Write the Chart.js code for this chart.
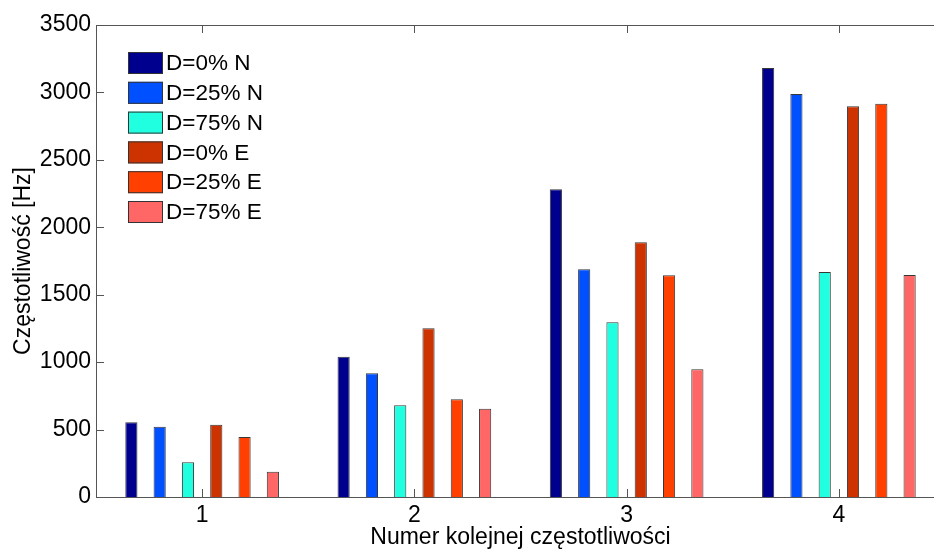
<!DOCTYPE html>
<html>
<head>
<meta charset="utf-8">
<script src="https://cdn.jsdelivr.net/npm/chart.js"></script>
<style>
  html, body { margin: 0; padding: 0; background: #fff; overflow: hidden; }
  #wrap { width: 950px; height: 549px; }
</style>
</head>
<body>
<div id="wrap"><canvas id="freqChart" width="950" height="549"></canvas></div>
<script>
    // data
    const categories = ['1', '2', '3', '4'];
    const seriesLabels = ['D=0% N', 'D=25% N', 'D=75% N', 'D=0% E', 'D=25% E', 'D=75% E'];
    const d0N  = [554, 1040, 2282, 3181];
    const d25N = [521, 917, 1688, 2988];
    const d75N = [257, 680, 1295, 1668];
    const d0E  = [536, 1251, 1889, 2898];
    const d25E = [445, 724, 1644, 2916];
    const d75E = [188, 655, 947, 1646];
    const yTicks = [0, 500, 1000, 1500, 2000, 2500, 3000, 3500];

    const colors = ['#00008f', '#0050ff', '#20ffdf', '#cc3300', '#ff4000', '#ff6666'];
    const values = [d0N, d25N, d75N, d0E, d25E, d75E];
    const font = "'Liberation Sans', Arial, sans-serif";

    // matlab-like box with inward ticks
    const boxPlugin = {
        id: 'box',
        afterDatasetsDraw(chart) {
            const {ctx, chartArea: a, scales} = chart;
            ctx.save();
            ctx.strokeStyle = '#555';
            ctx.lineWidth = 1;
            ctx.beginPath();
            ctx.rect(Math.round(a.left) + 0.5, Math.round(a.top) + 0.5,
                     Math.round(a.right - a.left), Math.round(a.bottom - a.top));
            yTicks.forEach(v => {
                const y = Math.round(scales.y.getPixelForValue(v)) + 0.5;
                ctx.moveTo(a.left, y); ctx.lineTo(a.left + 8, y);
                ctx.moveTo(a.right, y); ctx.lineTo(a.right - 8, y);
            });
            categories.forEach((c, i) => {
                const x = Math.round(scales.x.getPixelForValue(i)) + 0.5;
                ctx.moveTo(x, a.bottom); ctx.lineTo(x, a.bottom - 8);
                ctx.moveTo(x, a.top); ctx.lineTo(x, a.top + 8);
            });
            ctx.stroke();
            ctx.restore();
        },
        afterDraw(chart) {
            const {ctx} = chart;
            ctx.save();
            ctx.font = '22.5px ' + font;
            ctx.textBaseline = 'middle';
            chart.data.datasets.forEach((ds, i) => {
                const y = 52 + i * 29.8;
                ctx.fillStyle = ds.backgroundColor;
                ctx.fillRect(128, y, 35, 22);
                ctx.strokeStyle = '#333';
                ctx.strokeRect(128.5, y + 0.5, 34, 21);
                ctx.fillStyle = '#000';
                ctx.fillText(ds.label, 166, y + 12);
            });
            ctx.restore();
        }
    };

    const ctx = document.getElementById('freqChart').getContext('2d');
    const freqChart = new Chart(ctx, {
        type: 'bar',
        data: {
            labels: categories,
            datasets: seriesLabels.map((label, i) => ({
                label: label,
                data: values[i],
                backgroundColor: colors[i],
                borderColor: 'rgba(20,20,20,0.85)',
                borderWidth: 1,
                categoryPercentage: 0.8,
                barPercentage: 0.43
            }))
        },
        options: {
            responsive: false,
            animation: false,
            layout: { padding: { top: 25, right: 5, left: 0, bottom: 0 } },
            plugins: {
                legend: { display: false },
                tooltip: { enabled: false }
            },
            scales: {
                x: {
                    grid: { display: false, drawTicks: false },
                    border: { display: false },
                    ticks: { color: '#000', padding: 5, font: { family: font, size: 23 } },
                    title: {
                        display: true,
                        text: 'Numer kolejnej częstotliwości',
                        color: '#000',
                        padding: 0,
                        font: { family: font, size: 23, lineHeight: 1 }
                    },
                    afterFit(scale) { scale.height = 52; }
                },
                y: {
                    min: 0,
                    max: 3500,
                    afterBuildTicks(scale) { scale.ticks = yTicks.map(v => ({ value: v })); },
                    grid: { display: false, drawTicks: false },
                    border: { display: false },
                    ticks: {
                        color: '#000',
                        padding: 5,
                        font: { family: font, size: 23 },
                        callback: v => String(v)
                    },
                    title: {
                        display: true,
                        text: 'Częstotliwość [Hz]',
                        color: '#000',
                        padding: { top: 12, bottom: 0 },
                        font: { family: font, size: 23, lineHeight: 1 }
                    },
                    afterFit(scale) { scale.width = 96; }
                }
            }
        },
        plugins: [boxPlugin]
    });
</script>
</body>
</html>
